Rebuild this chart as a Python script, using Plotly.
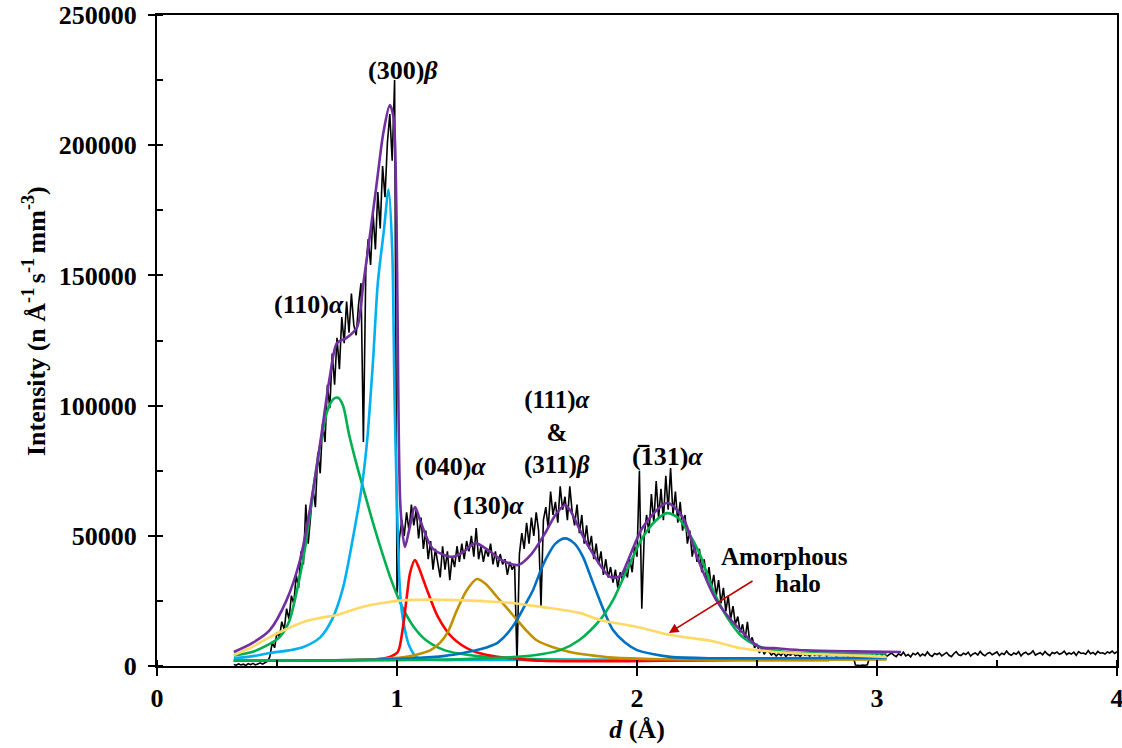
import numpy as np
import plotly.graph_objects as go

# ---------------- measured data (intensity in thousands) ----------------
d_start, d_step = 0.32, 0.01
measured_k = [
    # 0.32-0.46
    0.6, 0.3, 0.8, 0.4, 0.7, 0.2, 0.9, 0.5, 1.0, 0.4, 0.8, 1.2, 0.7, 1.4, 1.8,
    # 0.47-0.99
    3.5, 9, 7, 13, 11, 17, 14, 22, 18, 27, 24, 35, 30, 44, 39, 62, 47, 58, 68, 61,
    82, 74, 93, 86, 108, 99, 120, 108, 126, 114, 134, 124, 140, 128, 143, 131, 127,
    139, 147, 86, 152, 164, 154, 174, 160, 182, 168, 192, 180, 201, 212, 194, 225,
    # 1.00-1.49
    28, 49, 56, 50, 59, 52, 62, 54, 60, 49, 57, 45, 52, 41, 48, 37, 45, 39, 34, 46,
    37, 44, 33, 42, 38, 46, 40, 47, 41, 48, 44, 50, 42, 53, 41, 46, 40, 45, 42, 47,
    39, 44, 38, 43, 39, 41, 35, 40, 37, 39,
    # 1.50-1.99
    1, 43, 51, 45, 55, 47, 57, 50, 59, 52, 23, 56, 61, 53, 67, 58, 63, 55, 69, 60,
    65, 56, 69, 59, 54, 62, 51, 58, 47, 54, 45, 50, 41, 47, 39, 44, 35, 41, 34, 38,
    32, 37, 30, 36, 33, 38, 34, 41, 36, 46,
    # 2.00-2.54
    42, 75, 22, 50, 58, 51, 66, 55, 71, 57, 68, 56, 73, 60, 76, 58, 67, 55, 63, 52,
    58, 47, 52, 42, 47, 40, 45, 36, 41, 33, 38, 30, 35, 27, 33, 24, 30, 21, 27, 18,
    23, 16, 19, 13, 16, 10, 17, 9, 11, 7, 8.5, 5, 7, 4.5, 6,
    # 2.55-2.90
    5.5, 4.2, 5.0, 3.8, 4.8, 4.0, 5.2, 3.6, 4.6, 4.1, 5.0, 3.9, 4.4, 3.7, 4.8, 4.2,
    4.5, 3.8, 4.9, 4.0, 4.6, 3.9, 4.3, 4.7, 3.8, 4.4, 4.1, 4.6, 3.9, 4.2, 4.5, 4.0,
    4.3, 3.8, 4.6, 4.1,
    # 2.91-2.96
    0.4, 0.3, 0.2, 0.4, 0.3, 0.5,
    # 2.97-4.00
    3.6, 4.1, 3.4, 4.4, 5.2, 4.0, 4.8, 3.7, 4.5, 5.0,
    4.2, 3.6, 4.7, 4.1, 5.3, 3.9, 4.4, 3.5, 4.9, 4.3,
    5.1, 3.8, 4.6, 4.0, 5.4, 4.2, 3.7, 4.8, 4.4, 5.0,
    3.9, 4.5, 5.2, 4.1, 3.6, 4.7, 5.5, 4.3, 4.0, 4.9,
    4.4, 5.3, 3.8, 4.6, 5.0, 4.2, 5.6, 4.5, 3.9, 4.8,
    5.2, 4.3, 4.7, 5.4, 4.0, 4.9, 4.4, 5.7, 4.6, 4.1,
    5.0, 4.5, 5.5, 3.9, 4.8, 5.3, 4.4, 4.9, 5.8, 4.2,
    4.7, 5.1, 4.3, 5.6, 4.6, 4.0, 5.2, 4.8, 5.4, 4.5,
    4.9, 5.7, 4.4, 5.0, 4.6, 5.3, 4.1, 5.5, 4.8, 5.0,
    4.5, 5.9, 4.7, 5.2, 4.4, 5.6, 4.9, 5.1, 4.6, 5.4,
    5.0, 5.7, 4.8, 5.5,
]
measured_d = np.round(d_start + d_step * np.arange(len(measured_k)), 2)

# ---------------- fitted components (d, intensity in thousands) ----------------
g110_d = [0.32, 0.40, 0.46, 0.51, 0.55, 0.59, 0.62, 0.65, 0.68, 0.71, 0.735, 0.755,
          0.775, 0.80, 0.83, 0.86, 0.90, 0.94, 0.98, 1.02, 1.07, 1.12, 1.20, 1.30,
          1.42, 1.60, 1.90, 2.30, 2.80]
g110_i = [4.0, 5.5, 8.0, 11, 17, 32, 47, 67, 85, 98, 102.5, 103, 100, 89, 78, 68,
          55, 43, 32, 23, 15, 10, 6, 4.2, 3.2, 2.6, 2.3, 2.2, 2.2]

c300_d = [0.32, 0.40, 0.47, 0.55, 0.61, 0.68, 0.73, 0.775, 0.82, 0.855, 0.875, 0.90,
          0.92, 0.945, 0.965, 0.98, 0.99, 1.00, 1.01, 1.02, 1.035, 1.05, 1.08, 1.12,
          1.30, 1.60, 2.00, 2.50, 3.04]
c300_i = [3.0, 3.8, 5.0, 6.0, 7.3, 11, 18, 30, 51, 70, 86, 117, 147, 167, 183, 160,
          102, 62, 33, 21, 13, 8, 3.5, 2.5, 2.3, 2.3, 2.5, 2.8, 3.0]

r040_d = [0.32, 0.60, 0.90, 0.97, 1.00, 1.01, 1.025, 1.04, 1.055, 1.075, 1.09, 1.11,
          1.13, 1.17, 1.23, 1.31, 1.40, 1.50, 1.60, 1.80, 2.10, 2.50, 3.00]
r040_i = [2.0, 2.1, 2.5, 3.5, 5, 7, 15, 26, 36, 40.7, 38, 33, 28, 19, 11, 6, 3.8,
          2.8, 2.0, 1.8, 2.0, 2.5, 3.0]

o130_d = [0.32, 0.70, 0.95, 1.04, 1.10, 1.14, 1.18, 1.21, 1.25, 1.29, 1.333, 1.37,
          1.417, 1.46, 1.50, 1.54, 1.58, 1.65, 1.72, 1.80, 1.90, 2.10, 2.50, 3.04]
o130_i = [2.0, 2.2, 2.8, 3.5, 4.8, 6.1, 9, 12.7, 21.5, 29, 33.4, 31.5, 26.5, 22,
          17.7, 13.5, 10, 7.2, 5.4, 4.2, 3.2, 2.6, 2.3, 2.5]

b111_d = [0.32, 0.80, 1.07, 1.20, 1.275, 1.35, 1.417, 1.46, 1.50, 1.54, 1.567, 1.60,
          1.625, 1.66, 1.70, 1.74, 1.775, 1.80, 1.833, 1.87, 1.90, 1.95, 2.00, 2.07,
          2.14, 2.30, 2.60, 3.04]
b111_i = [2.0, 2.3, 3.0, 3.9, 5.0, 6.5, 8.8, 12.5, 17.7, 24.5, 29.2, 37, 41.9, 47,
          49, 47, 41.9, 36, 28, 19.5, 13.8, 9, 6.1, 4.5, 3.5, 3.0, 3.0, 3.2]

g131_d = [0.32, 0.80, 1.20, 1.50, 1.60, 1.68, 1.76, 1.846, 1.90, 1.958, 2.025, 2.08,
          2.125, 2.17, 2.208, 2.26, 2.317, 2.375, 2.44, 2.525, 2.60, 2.68, 2.85, 3.04]
g131_i = [2.0, 2.1, 2.5, 3.5, 4.5, 6.1, 10, 17.7, 25.3, 36.9, 49.6, 56, 58.7, 57,
          52.2, 43.4, 29.2, 18.8, 11.1, 6.9, 5.6, 5.0, 4.8, 4.8]

halo_d = [0.32, 0.40, 0.47, 0.54, 0.61, 0.68, 0.75, 0.82, 0.888, 0.96, 1.04, 1.14,
          1.25, 1.36, 1.48, 1.60, 1.76, 1.846, 2.00, 2.14, 2.317, 2.43, 2.64, 2.85, 3.04]
halo_i = [4.2, 7.5, 11.1, 14.2, 16.9, 18.5, 19.6, 21.7, 23.4, 24.5, 25.3, 25.5,
          25.3, 24.9, 24.2, 22.7, 20.4, 17.7, 15.0, 11.9, 9.5, 6.9, 5.0, 4.2, 3.5]

total_d = [0.32, 0.40, 0.47, 0.54, 0.596, 0.637, 0.68, 0.72, 0.75, 0.79, 0.833, 0.86,
           0.888, 0.915, 0.943, 0.97, 0.985, 0.998, 1.005, 1.015, 1.033, 1.05, 1.075,
           1.10, 1.15, 1.23, 1.28, 1.325, 1.38, 1.44, 1.505, 1.56, 1.617, 1.66, 1.70,
           1.72, 1.79, 1.888, 1.93, 1.958, 2.025, 2.125, 2.19, 2.25, 2.33, 2.43, 2.51,
           2.57, 2.70, 2.90, 3.10]
total_i = [5.4, 9, 13.8, 25.3, 40.7, 60, 85.6, 111, 124, 126, 130, 147, 166, 185,
           204.7, 215.4, 211, 172, 108, 60, 45.7, 52, 61, 55, 45, 41.9, 44, 47.2, 44.5,
           40.5, 38.8, 43, 51, 58, 61.8, 60, 47.2, 34.2, 34.5, 39.5, 53.4, 62.6, 57.2,
           41.9, 25.3, 13.8, 7.3, 6.9, 6.0, 5.6, 5.4]

components = [
    ("(110)α", g110_d, g110_i, "#00B050"),
    ("(300)β", c300_d, c300_i, "#00B0F0"),
    ("(040)α", r040_d, r040_i, "#FF0000"),
    ("(130)α", o130_d, o130_i, "#BF9000"),
    ("(111)α & (311)β", b111_d, b111_i, "#0070C0"),
    ("(-131)α", g131_d, g131_i, "#00B050"),
    ("Amorphous halo", halo_d, halo_i, "#FFD966"),
]

K = 1000.0
fig = go.Figure()
fig.add_trace(go.Scatter(x=measured_d, y=np.array(measured_k) * K, mode="lines",
                         line=dict(color="black", width=1.6), name="measured"))
for name, dd, ii, col in components:
    fig.add_trace(go.Scatter(x=dd, y=np.array(ii) * K, mode="lines",
                             line=dict(color=col, width=2.6, shape="spline", smoothing=0.8),
                             name=name))
fig.add_trace(go.Scatter(x=total_d, y=np.array(total_i) * K, mode="lines",
                         line=dict(color="#7030A0", width=2.6, shape="spline", smoothing=0.8),
                         name="fit"))

FONT = "Liberation Serif"
lab = dict(family=FONT, size=26, color="black", weight="bold")

labels = [
    ("(300)<i>β</i>", 1.025, 228500, 26),
    ("(110)<i>α</i>", 0.633, 139000, 26),
    ("(040)<i>α</i>", 1.221, 76500, 26),
    ("(130)<i>α</i>", 1.383, 61500, 26),
    ("(111)<i>α</i><br>&<br>(311)<i>β</i>", 1.667, 89500, 25),
    ("(131)<i>α</i>", 2.129, 80300, 26),
    ("Amorphous", 2.615, 42000, 25),
    ("halo", 2.67, 31500, 25),
]
for t, x, y, s in labels:
    fig.add_annotation(x=x, y=y, text=t, showarrow=False, font=dict(lab, size=s),
                       xanchor="center", yanchor="middle")

# overline on the "1" of (-1 3 1)
fig.add_shape(type="line", x0=2.003, x1=2.052, y0=84500, y1=84500,
              xref="x", yref="y", line=dict(color="black", width=2.2))

fig.add_annotation(x=2.133, y=12700, ax=2.4875, ay=33000, axref="x", ayref="y",
                   text="", showarrow=True, arrowhead=2, arrowsize=1.2,
                   arrowwidth=1.6, arrowcolor="#C00000")

# y-axis title as a rotated annotation (centred like the reference)
fig.add_annotation(xref="paper", yref="paper", x=-0.127, y=0.53,
                   text="Intensity (n Å<sup>-1 </sup>s<sup>-1 </sup>mm<sup>-3</sup>)",
                   textangle=-90, showarrow=False, xanchor="center", yanchor="middle",
                   font=dict(family=FONT, size=26, color="black", weight="bold"))

tickfont = dict(family=FONT, size=26, color="black", weight="bold")
fig.update_layout(
    width=1122, height=748,
    margin=dict(l=157, r=5, t=15, b=82),
    paper_bgcolor="white", plot_bgcolor="white",
    showlegend=False,
    font=dict(family=FONT, color="black"),
    xaxis=dict(range=[0, 4], dtick=1, tick0=0, showgrid=False, zeroline=False,
               automargin=False, ticklabeloverflow="allow",
               showline=True, linecolor="black", linewidth=2, mirror=True,
               ticks="outside", ticklen=8, tickwidth=2, tickcolor="black",
               minor=dict(dtick=0.5, ticks="inside", ticklen=6, tickwidth=1.5,
                          tickcolor="black", showgrid=False),
               tickfont=tickfont,
               title=dict(text="<i>d</i> (Å)", font=tickfont, standoff=8)),
    yaxis=dict(range=[0, 250000], dtick=50000, tick0=0, showgrid=False, zeroline=False,
               tickformat="d", automargin=False, ticklabelstandoff=6,
               showline=True, linecolor="black", linewidth=2, mirror=True,
               ticks="outside", ticklen=7, tickwidth=2, tickcolor="black",
               minor=dict(dtick=25000, ticks="inside", ticklen=6, tickwidth=1.5,
                          tickcolor="black", showgrid=False),
               tickfont=tickfont),
)

fig.write_html("out.html", config={"displayModeBar": False},
               post_script="document.body.style.margin='0';document.body.style.overflow='hidden';")
